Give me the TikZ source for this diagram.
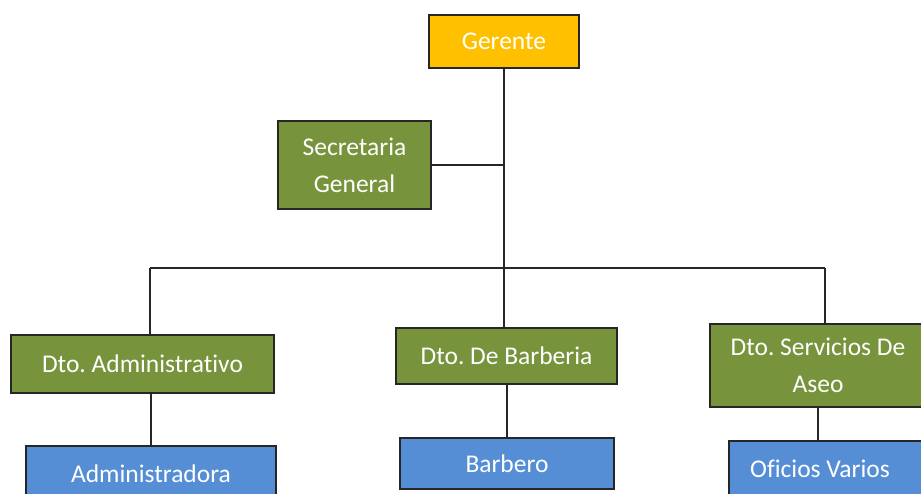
\documentclass[tikz,border=0pt]{standalone}
\usepackage{fontspec}
\setmainfont[Ligatures=NoCommon]{Carlito}
\frenchspacing
\definecolor{gerente}{HTML}{FFC000}
\definecolor{depto}{HTML}{77933C}
\definecolor{cargo}{HTML}{558ED5}
\begin{document}
\begin{tikzpicture}[
x=1pt, y=-1pt,
every node/.style={font=\fontsize{25.5}{37}\selectfont, text=white, draw=black!85, line width=1.5pt, rectangle, inner sep=0pt, align=center},
linea/.style={line width=1.2pt, draw=black!85}
]
\useasboundingbox (0,0) rectangle (921,493);
\clip (0,0) rectangle (921,493);

\path 
(504, 41.5) node[fill=gerente, minimum width=150pt, minimum height=53pt] (ger) {Gerente}
(354.5, 165) node[fill=depto, minimum width=153pt, minimum height=88pt] (sec) {Secretaria\\General}

(142.5, 364) node[fill=depto, minimum width=263pt, minimum height=58pt] (adm) {Dto. Administrativo}
(506.5, 356) node[fill=depto, minimum width=221pt, minimum height=56pt] (barb) {Dto. De Barberia}
(818, 365.5) node[fill=depto, minimum width=216pt, minimum height=83pt] (aseo) {Dto. Servicios De\\Aseo}

(151, 474) node[fill=cargo, minimum width=250pt, minimum height=56pt] (admra) {Administradora}
(507, 463.5) node[fill=cargo, minimum width=214pt, minimum height=51pt] (barbero) {Barbero}
(829, 469) node[fill=cargo, minimum width=200pt, minimum height=56pt] (oficios) {\hspace*{-18pt}Oficios Varios}
;

\coordinate (bus) at (504, 268);
\coordinate (busL) at (150, 268);
\coordinate (busR) at (825, 268);

\draw[linea] (ger.south) -- (bus);
\draw[linea] (sec.east) -- (sec.east -| ger.south);
\draw[linea] (busL) -- (busR);
\draw[linea] (busL) -- (busL |- adm.north);
\draw[linea] (bus) -- (bus |- barb.north);
\draw[linea] (busR) -- (busR |- aseo.north);

\draw[linea] (admra.north) -- (admra.north |- adm.south);
\draw[linea] (barbero.north) -- (barbero.north |- barb.south);
\draw[linea] (aseo.south) -- (aseo.south |- oficios.north);

\end{tikzpicture}
\end{document}
